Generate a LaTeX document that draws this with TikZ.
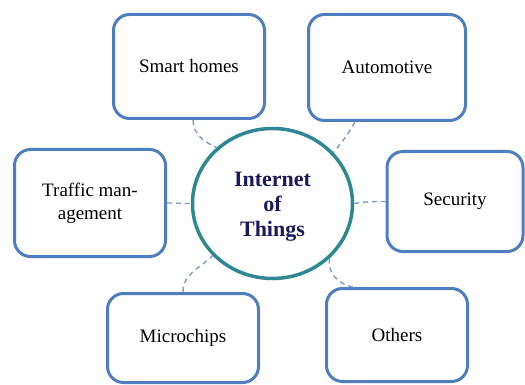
\documentclass[tikz,border=0pt]{standalone}
\usepackage{fontspec}
\setmainfont{Liberation Serif}
\usetikzlibrary{shapes.geometric}
\definecolor{boxblue}{HTML}{4F7EC0}
\definecolor{ringteal}{HTML}{2E8894}
\definecolor{dashblue}{HTML}{7E9CCB}
\definecolor{navytext}{HTML}{1A1A5C}
\tikzset{
  topic/.style={draw=boxblue, line width=3pt, rounded corners=16pt, fill=white,
    align=center, inner sep=0pt, font=\fontsize{19}{23}\selectfont, text=black},
  hub/.style={ellipse, draw=ringteal, line width=3.5pt, fill=white, inner sep=0pt,
    minimum width=160pt, minimum height=150pt, align=center,
    font=\fontsize{22}{25}\selectfont\bfseries, text=navytext},
  conn/.style={draw=dashblue, line width=1.4pt, dash pattern=on 5pt off 4pt}
}
\begin{document}
\begin{tikzpicture}[x=1pt,y=-1pt]
\useasboundingbox (0,0) rectangle (525,385);
\node[hub] (iot) at (272.5,203.5) {\rule{0pt}{21pt}Internet\\of\\Things};
\node[topic, minimum width=151pt, minimum height=104pt] (sh) at (189,66.5) {Smart homes};
\node[topic, minimum width=157pt, minimum height=106pt] (au) at (387,67.5) {Automotive};
\node[topic, minimum width=151pt, minimum height=107pt] (tr) at (90,203) {Traffic man-\\agement};
\node[topic, minimum width=136pt, minimum height=100pt] (se) at (455,201.5) {Security};
\node[topic, minimum width=151pt, minimum height=89pt] (mc) at (183,338) {Microchips};
\node[topic, minimum width=141pt, minimum height=93pt] (ot) at (397,335) {Others};
\coordinate (shb) at ([xshift=4pt]sh.south);
\coordinate (aub) at ([xshift=-32pt]au.south);
\coordinate (otn) at ([xshift=-44pt]ot.north);
\draw[conn] (shb) to[out=-90, in=155] (iot.135);
\draw[conn] (aub) to[out=-120, in=50] (iot.40);
\draw[conn] (tr.east) to[out=0, in=180] (iot.west);
\draw[conn] (iot.east) to[out=10, in=180] (se.west);
\draw[conn] (mc.north) to[out=90, in=225] (iot.221);
\draw[conn] (iot.-44) to[out=-100, in=170] (otn);
\end{tikzpicture}
\end{document}
